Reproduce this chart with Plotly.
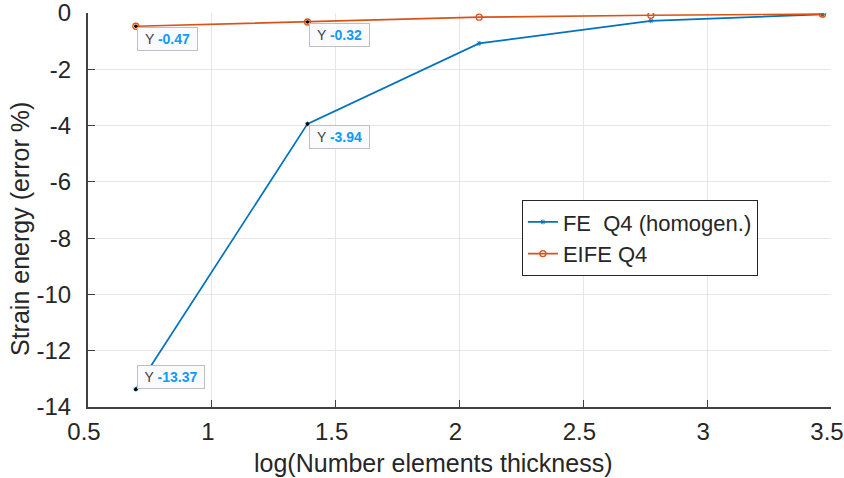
import numpy as np
import plotly.graph_objects as go

x_vals = [0.6931, 1.3863, 2.0794, 2.7726, 3.4657]
fe_q4 = [-13.37, -3.94, -1.08, -0.28, -0.05]
eife_q4 = [-0.47, -0.32, -0.15, -0.08, -0.04]
tip_x = [0.6931, 1.3863, 1.3863, 0.6931]
tip_y = [-0.47, -0.32, -3.94, -13.37]
tip_above = [False, False, False, True]
x_ticks = [0.5, 1, 1.5, 2, 2.5, 3, 3.5]
x_tick_text = ["0.5", "1", "1.5", "2", "2.5", "3", "3.5"]
y_ticks = [0, -2, -4, -6, -8, -10, -12, -14]
y_tick_text = ["0", "-2", "-4", "-6", "-8", "-10", "-12", "-14"]
x_title = "log(Number elements thickness)"
y_title = "Strain energy (error %)"

blue = "#0072BD"
orange = "#D95319"
font = "Liberation Sans, Arial, sans-serif"

fig = go.Figure()
fig.add_trace(go.Scatter(x=x_vals, y=fe_q4, mode="lines+markers", name="FE  Q4 (homogen.)",
                         line=dict(color=blue, width=1.7),
                         marker=dict(symbol="asterisk", size=4, color=blue, line=dict(color=blue, width=1))))
fig.add_trace(go.Scatter(x=x_vals, y=eife_q4, mode="lines+markers", name="EIFE Q4",
                         line=dict(color=orange, width=1.7),
                         marker=dict(symbol="circle-open", size=6, color=orange, line=dict(color=orange, width=1.3))))
fig.add_trace(go.Scatter(x=tip_x, y=tip_y, mode="markers", showlegend=False,
                         marker=dict(symbol="circle", size=3.5, color="black")))

for xv, yv, above in zip(tip_x, tip_y, tip_above):
    fig.add_annotation(x=xv, y=yv, xref="x", yref="y", xanchor="left",
                       yanchor="bottom" if above else "top",
                       text=f"<span style='color:#404040'>Y </span><b><span style='color:#0E9CF5'>{yv:.2f}</span></b>",
                       showarrow=False, font=dict(family=font, size=14),
                       bgcolor="#FAFAFF", bordercolor="#BFBFBF", borderwidth=1, borderpad=3,
                       width=53 if yv > -10 else 60, height=16, align="center",
                       xshift=1, yshift=0 if above else -1)

# axis titles placed where the reference draws them
fig.add_annotation(x=(433 - 88) / 743, y=(407 - 463) / 394, xref="paper", yref="paper",
                   text=x_title, showarrow=False, xanchor="center", yanchor="middle",
                   font=dict(family=font, size=25, color="#262626"))
fig.add_annotation(x=(20 - 88) / 743, y=(407 - 229) / 394, xref="paper", yref="paper",
                   text=y_title, showarrow=False, xanchor="center", yanchor="middle", textangle=-90,
                   font=dict(family=font, size=25, color="#262626"))

fig.update_layout(
    width=844, height=478, margin=dict(l=88, r=13, t=13, b=71),
    plot_bgcolor="white", paper_bgcolor="white",
    font=dict(family=font, size=24, color="#262626"),
    legend=dict(x=0.584, y=0.525, xanchor="left", yanchor="top", bgcolor="white",
                bordercolor="#262626", borderwidth=1, font=dict(size=22), tracegroupgap=0,
                itemwidth=30),
)
fig.update_xaxes(range=[0.5, 3.5], tickvals=x_ticks, ticktext=x_tick_text,
                 showgrid=True, gridcolor="#E6E6E6", zeroline=False, automargin=False,
                 showline=True, linecolor="#404040", linewidth=2,
                 ticks="inside", ticklen=7, tickcolor="#404040",
                 ticklabeloverflow="allow", ticklabelshift=-4, ticklabelstandoff=2)
fig.update_yaxes(range=[-14, 0], tickvals=y_ticks, ticktext=y_tick_text,
                 showgrid=True, gridcolor="#E6E6E6", zeroline=False, automargin=False,
                 showline=True, linecolor="#404040", linewidth=2,
                 ticks="inside", ticklen=7, tickcolor="#404040",
                 ticklabeloverflow="allow", ticklabelstandoff=10)

fig.write_html("out.html")
